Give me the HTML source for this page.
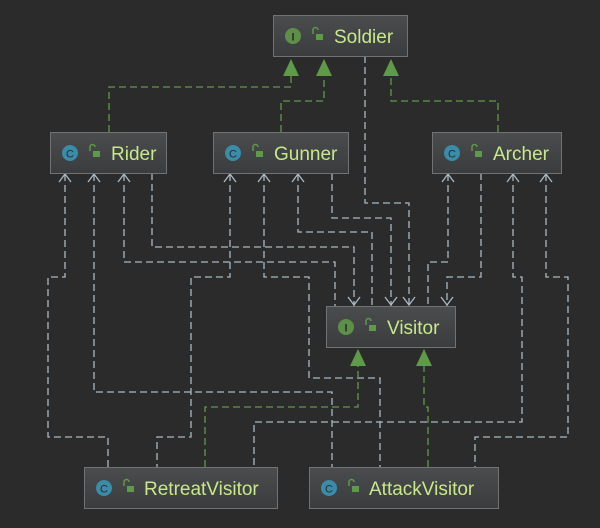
<!DOCTYPE html>
<html><head><meta charset="utf-8"><style>
html,body{margin:0;padding:0;background:#2b2b2b;}
svg{display:block}
text{font-family:"Liberation Sans","DejaVu Sans",sans-serif;}
</style></head><body>
<svg width="600" height="528" viewBox="0 0 600 528" xmlns="http://www.w3.org/2000/svg">
<defs>
<linearGradient id="bg" x1="0" y1="0" x2="0" y2="1"><stop offset="0" stop-color="#4a4c4e"/><stop offset="1" stop-color="#3a3c3e"/></linearGradient>
</defs>
<rect width="600" height="528" fill="#2b2b2b"/>
<g fill="none" stroke="#a8b8c4" stroke-width="1.3" stroke-dasharray="7,4">
<polyline points="365,56 365,101 365,203 409,203 409,306"/>
<polyline points="152,173 152,247 354,247 354,306"/>
<polyline points="298,174 298,232 372,232 372,306"/>
<polyline points="332,173 332,218 391,218 391,306"/>
<polyline points="124,174 124,262 335,262 335,306"/>
<polyline points="448,174 448,262 428,262 428,306"/>
<polyline points="481,173 481,277 447,277 447,306"/>
<polyline points="65,174 65,277 48,277 48,437 108,437 108,467"/>
<polyline points="230,174 230,277 191,277 191,437 157,437 157,467"/>
<polyline points="264,174 264,277 309,277 309,378 380,378 380,467"/>
<polyline points="94,174 94,392 332,392 332,467"/>
<polyline points="513,174 513,277 522,277 522,422 254,422 254,467"/>
<polyline points="546,174 546,277 568,277 568,437 475,437 475,467"/>
</g>
<g fill="none" stroke="#a8b8c4" stroke-width="1.3">
<polyline points="59,182 65,174 71,182"/><polyline points="88,182 94,174 100,182"/><polyline points="118,182 124,174 130,182"/>
<polyline points="224,182 230,174 236,182"/><polyline points="258,182 264,174 270,182"/><polyline points="292,182 298,174 304,182"/>
<polyline points="442,182 448,174 454,182"/><polyline points="507,182 513,174 519,182"/><polyline points="540,182 546,174 552,182"/>
<polyline points="348,297 354,305 360,297"/><polyline points="385,297 391,305 397,297"/><polyline points="403,297 409,305 415,297"/><polyline points="441,297 447,305 453,297"/>
</g>
<g fill="none" stroke="#5e9a48" stroke-width="1.3" stroke-dasharray="7,4">
<polyline points="109,132 109,87 291,87 291,76"/>
<polyline points="281,132 281,101 324,101 324,76"/>
<polyline points="498,132 498,101 391,101 391,76"/>
<polyline points="205,467 205,407 358,407 358,366"/>
<polyline points="428,467 428,407 424,407 424,366"/>
</g>
<g fill="#5e9a48">
<polygon points="291,59 283,76 299,76"/><polygon points="324,59 316,76 332,76"/><polygon points="391,59 383,76 399,76"/>
<polygon points="358,349 350,366 366,366"/><polygon points="424,349 416,366 432,366"/>
</g>
<g>
<g transform="translate(273,15)"><rect x="0.5" y="0.5" width="134" height="41" fill="url(#bg)" stroke="#707274"/>
<circle cx="20" cy="21" r="8" fill="#5e8f4a"/><text x="20" y="25.5" font-size="11" font-weight="bold" fill="#2b2b2b" text-anchor="middle" font-family="Liberation Serif,serif">I</text>
<rect x="43" y="19" width="7" height="6" fill="#5e9a48"/><path d="M40,19 v-4 a2.5,2.5 0 0 1 5,0" fill="none" stroke="#5e9a48" stroke-width="1.5"/>
<text x="61" y="28" font-size="19" fill="#c8e88a">Soldier</text></g>

<g transform="translate(50,132)"><rect x="0.5" y="0.5" width="116" height="41" fill="url(#bg)" stroke="#707274"/>
<circle cx="20" cy="21" r="8" fill="#3a8ca8"/><text x="20" y="25.5" font-size="11" fill="#2b2b2b" text-anchor="middle">C</text>
<rect x="43" y="19" width="7" height="6" fill="#5e9a48"/><path d="M40,19 v-4 a2.5,2.5 0 0 1 5,0" fill="none" stroke="#5e9a48" stroke-width="1.5"/>
<text x="61" y="28" font-size="19" fill="#c8e88a">Rider</text></g>

<g transform="translate(213,132)"><rect x="0.5" y="0.5" width="135" height="41" fill="url(#bg)" stroke="#707274"/>
<circle cx="20" cy="21" r="8" fill="#3a8ca8"/><text x="20" y="25.5" font-size="11" fill="#2b2b2b" text-anchor="middle">C</text>
<rect x="43" y="19" width="7" height="6" fill="#5e9a48"/><path d="M40,19 v-4 a2.5,2.5 0 0 1 5,0" fill="none" stroke="#5e9a48" stroke-width="1.5"/>
<text x="61" y="28" font-size="19" fill="#c8e88a">Gunner</text></g>

<g transform="translate(432,132)"><rect x="0.5" y="0.5" width="129" height="41" fill="url(#bg)" stroke="#707274"/>
<circle cx="20" cy="21" r="8" fill="#3a8ca8"/><text x="20" y="25.5" font-size="11" fill="#2b2b2b" text-anchor="middle">C</text>
<rect x="43" y="19" width="7" height="6" fill="#5e9a48"/><path d="M40,19 v-4 a2.5,2.5 0 0 1 5,0" fill="none" stroke="#5e9a48" stroke-width="1.5"/>
<text x="61" y="28" font-size="19" fill="#c8e88a">Archer</text></g>

<g transform="translate(326,306)"><rect x="0.5" y="0.5" width="129" height="41" fill="url(#bg)" stroke="#707274"/>
<circle cx="20" cy="21" r="8" fill="#5e8f4a"/><text x="20" y="25.5" font-size="11" font-weight="bold" fill="#2b2b2b" text-anchor="middle" font-family="Liberation Serif,serif">I</text>
<rect x="43" y="19" width="7" height="6" fill="#5e9a48"/><path d="M40,19 v-4 a2.5,2.5 0 0 1 5,0" fill="none" stroke="#5e9a48" stroke-width="1.5"/>
<text x="61" y="28" font-size="19" fill="#c8e88a">Visitor</text></g>

<g transform="translate(84,467)"><rect x="0.5" y="0.5" width="193" height="41" fill="url(#bg)" stroke="#707274"/>
<circle cx="20" cy="21" r="8" fill="#3a8ca8"/><text x="20" y="25.5" font-size="11" fill="#2b2b2b" text-anchor="middle">C</text>
<rect x="43" y="19" width="7" height="6" fill="#5e9a48"/><path d="M40,19 v-4 a2.5,2.5 0 0 1 5,0" fill="none" stroke="#5e9a48" stroke-width="1.5"/>
<text x="60" y="28" font-size="19" fill="#c8e88a">RetreatVisitor</text></g>

<g transform="translate(309,467)"><rect x="0.5" y="0.5" width="189" height="41" fill="url(#bg)" stroke="#707274"/>
<circle cx="20" cy="21" r="8" fill="#3a8ca8"/><text x="20" y="25.5" font-size="11" fill="#2b2b2b" text-anchor="middle">C</text>
<rect x="43" y="19" width="7" height="6" fill="#5e9a48"/><path d="M40,19 v-4 a2.5,2.5 0 0 1 5,0" fill="none" stroke="#5e9a48" stroke-width="1.5"/>
<text x="60" y="28" font-size="19" fill="#c8e88a">AttackVisitor</text></g>
</g>
</svg>
</body></html>
